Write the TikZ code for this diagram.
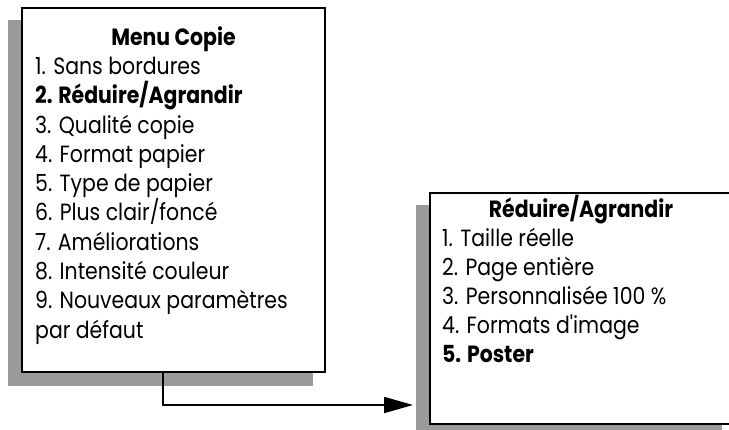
\documentclass[tikz,border=0pt]{standalone}
\usepackage{graphicx}
\usepackage{fontspec}
\setmainfont{Poppins}
\usetikzlibrary{arrows.meta}
\definecolor{shadowgray}{RGB}{155,155,155}
\newcommand{\mtxt}[1]{\scalebox{0.87}[1]{#1}}
\tikzset{
  menubox/.style={draw=black, line width=2pt, fill=white, rectangle, inner sep=0pt, outer sep=0pt},
  shadowbox/.style={fill=shadowgray, draw=none, rectangle, inner sep=0pt, outer sep=0pt},
  itemtext/.style={anchor=base west, inner sep=0pt, font=\fontsize{23.5}{27}\selectfont},
  bolditem/.style={itemtext, font=\fontsize{23.5}{27}\selectfont\bfseries},
  titletext/.style={anchor=base, inner sep=0pt, font=\fontsize{23.5}{27}\selectfont\bfseries},
  link/.style={line width=2pt, -{Triangle[length=29pt,width=16pt]}}
}
\begin{document}
\begin{tikzpicture}[x=1pt,y=-1pt]
\useasboundingbox (0,0) rectangle (729,430);
% shadows
\node[shadowbox, minimum width=305pt, minimum height=366pt] (sh1) at (160.5,203) {};
\node[shadowbox, minimum width=306pt, minimum height=232pt] (sh2) at (569,321) {};
% boxes
\node[menubox, minimum width=303pt, minimum height=364pt] (box1) at (173.5,190) {};
\node[menubox, minimum width=305pt, minimum height=231pt] (box2) at (582.5,308.5) {};
% box 1 text
\node[titletext] (t1) at (173.5,46) {\mtxt{Menu Copie}};
\node[itemtext] (a1) at (35,74.5) {\mtxt{1. Sans bordures}};
\node[bolditem] (a2) at (35,103.8) {\mtxt{2. Réduire/Agrandir}};
\node[itemtext] (a3) at (35,133.1) {\mtxt{3. Qualité copie}};
\node[itemtext] (a4) at (35,162.4) {\mtxt{4. Format papier}};
\node[itemtext] (a5) at (35,191.7) {\mtxt{5. Type de papier}};
\node[itemtext] (a6) at (35,221) {\mtxt{6. Plus clair/foncé}};
\node[itemtext] (a7) at (35,250.3) {\mtxt{7. Améliorations}};
\node[itemtext] (a8) at (35,279.6) {\mtxt{8. Intensité couleur}};
\node[itemtext] (a9) at (35,308.9) {\mtxt{9. Nouveaux paramètres}};
\node[itemtext] (a10) at (35,338.2) {\mtxt{par défaut}};
% box 2 text
\node[titletext] (t2) at (581,218) {\mtxt{Réduire/Agrandir}};
\node[itemtext] (b1) at (442,247) {\mtxt{1. Taille réelle}};
\node[itemtext] (b2) at (442,276) {\mtxt{2. Page entière}};
\node[itemtext] (b3) at (442,305) {\mtxt{3. Personnalisée 100 \%}};
\node[itemtext] (b4) at (442,334) {\mtxt{4. Formats d\textquotesingle image}};
\node[bolditem] (b5) at (442,363) {\mtxt{5. Poster}};
% connector
\coordinate (tip) at (413,405);
\draw[link] ([xshift=141pt]box1.south west) |- (tip);
\end{tikzpicture}
\end{document}
